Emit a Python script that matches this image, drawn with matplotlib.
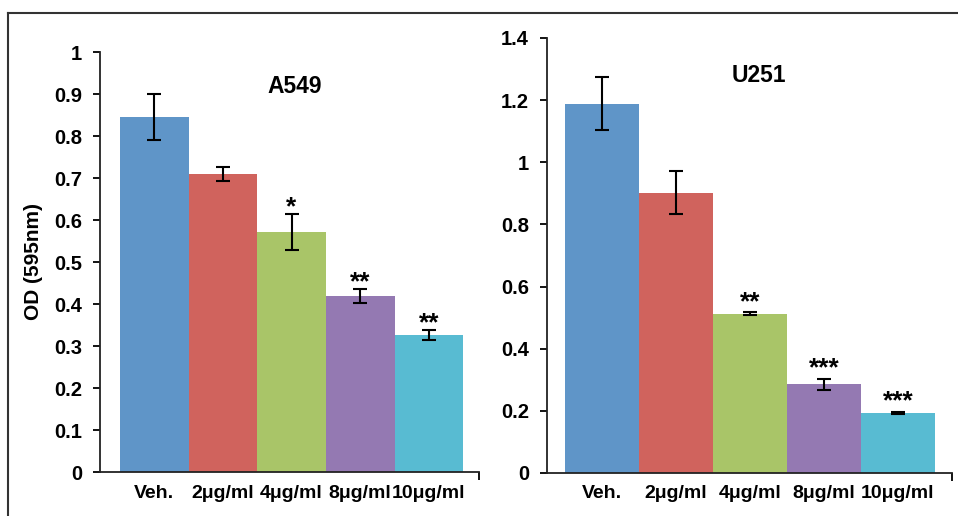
import matplotlib
matplotlib.use("Agg")
import matplotlib.pyplot as plt
from matplotlib.lines import Line2D

plt.rcParams['font.family'] = ['Liberation Sans', 'DejaVu Sans']
plt.rcParams['font.weight'] = 'bold'

categories = ["Veh.", "2\u03bcg/ml", "4\u03bcg/ml", "8\u03bcg/ml", "10\u03bcg/ml"]
colors = ["#5f95c8", "#d0635d", "#a9c568", "#9479b2", "#58bbd2"]

a549_values = [0.845, 0.710, 0.571, 0.419, 0.326]
a549_err = [0.055, 0.017, 0.043, 0.017, 0.011]
a549_stars = ["", "", "*", "**", "**"]

u251_values = [1.189, 0.902, 0.512, 0.285, 0.193]
u251_err = [0.084, 0.070, 0.005, 0.019, 0.003]
u251_stars = ["", "", "**", "***", "***"]

fig = plt.figure(figsize=(9.58, 5.16), dpi=100)

# outer frame lines (top and left)
fig.add_artist(Line2D([8/958, 1.0], [1 - 13/516, 1 - 13/516], color="#333333", lw=1.5, transform=fig.transFigure))
fig.add_artist(Line2D([8/958, 8/958], [0, 1 - 13/516], color="#333333", lw=1.5, transform=fig.transFigure))


def draw(ax, values, err, stars, ylim, yticks, yticklabels, title, title_xy, xlim, star_off):
    x = list(range(len(values)))
    ax.bar(x, values, width=1.0, color=colors, edgecolor="none", zorder=2)
    ax.errorbar(x, values, yerr=err, fmt="none", ecolor="black", elinewidth=1.5,
                capsize=5, capthick=1.5, zorder=3)
    for xi, v, e, s in zip(x, values, err, stars):
        if s:
            ax.text(xi, v + e + star_off, s, ha="center", va="bottom", fontsize=19,
                    fontweight="bold", zorder=4)
    ax.set_xlim(*xlim)
    ax.set_ylim(*ylim)
    ax.set_yticks(yticks)
    ax.set_yticklabels(yticklabels, fontsize=14.5, fontweight="bold")
    ax.set_xticks(x)
    ax.set_xticklabels(categories, fontsize=14, fontweight="bold")
    for lbl, dx in zip(ax.get_xticklabels(), [0.03, 0.0, 0.06, 0.1, 0.17]):
        lbl.set_x(lbl.get_position()[0])
    ax.tick_params(axis="x", length=0, pad=9)
    ax.tick_params(axis="y", direction="out", length=5, width=1.3, pad=8)
    # end tick on x-axis
    ax.set_xticks([xlim[1]], minor=True)
    ax.tick_params(axis="x", which="minor", direction="out", length=6, width=1.3)
    for sp in ["top", "right"]:
        ax.spines[sp].set_visible(False)
    for sp in ["left", "bottom"]:
        ax.spines[sp].set_linewidth(1.3)
        ax.spines[sp].set_color("#222222")
    ax.text(title_xy[0], title_xy[1], title, transform=ax.transAxes, ha="center",
            va="center", fontsize=16.5, fontweight="bold")


ax1 = fig.add_axes([100/958, 44/516, 379/958, 420/516])
draw(ax1, a549_values, a549_err, a549_stars, (0, 1.0),
     [i/10 for i in range(11)], ["0"] + [f"0.{i}" for i in range(1, 10)] + ["1"],
     "A549", (0.514, 0.917), (-0.79, 4.73), -0.012)
ax1.set_ylabel("OD (595nm)", fontsize=15, fontweight="bold", labelpad=8)

ax2 = fig.add_axes([547/958, 43/516, 405/958, 435/516])
draw(ax2, u251_values, u251_err, u251_stars, (0, 1.4),
     [0, 0.2, 0.4, 0.6, 0.8, 1.0, 1.2, 1.4], ["0", "0.2", "0.4", "0.6", "0.8", "1", "1.2", "1.4"],
     "U251", (0.523, 0.913), (-0.743, 4.73), -0.005)

fig.savefig("out.png", dpi=100)
